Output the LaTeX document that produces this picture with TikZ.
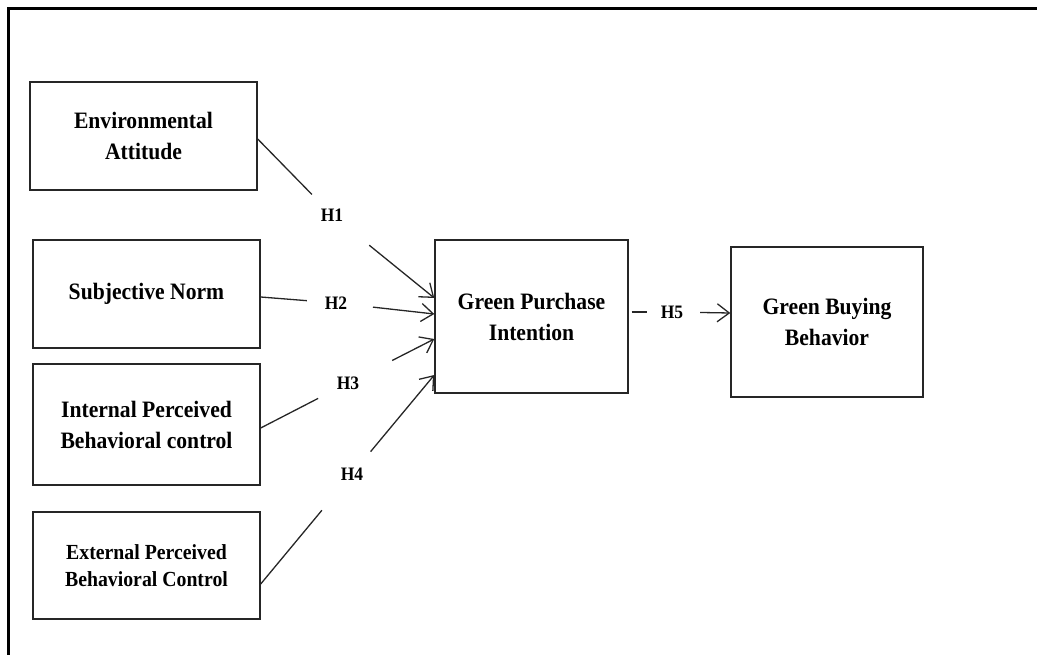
\documentclass[tikz,border=0pt]{standalone}
\usepackage{fontspec}
\setmainfont[FakeStretch=0.92]{Liberation Serif}
\usetikzlibrary{arrows.meta}
\begin{document}
\begin{tikzpicture}[x=1pt,y=-1pt]
\tikzstyle{bloc}=[draw=black!85,line width=1.4pt,align=center,font=\fontsize{23.5}{31}\selectfont\bfseries]
\tikzstyle{hyp}=[inner sep=0pt,outer sep=0pt,font=\fontsize{19}{20}\selectfont\bfseries]
\tikzstyle{lien}=[line width=1.3pt,draw=black!85]
\tikzset{>={Straight Barb[length=12pt,width=18pt]}}

\useasboundingbox (0,0) rectangle (1037,655);
% Cadre
\draw[line width=3pt] (8,655) -- (8,9) -- (1037,9);

% Variables exogenes
\node[bloc,minimum width=227pt,minimum height=108pt] (EA) at (143.5,136) {Environmental\\Attitude};
\node[bloc,minimum width=227pt,minimum height=108pt] (SN) at (146.5,294) {Subjective Norm};
\node[bloc,minimum width=227pt,minimum height=121pt] (IPBC) at (146.5,424.5) {Internal Perceived\\Behavioral control};
\node[bloc,minimum width=227pt,minimum height=107pt,font=\fontsize{21.5}{27}\selectfont\bfseries] (EPBC) at (146.5,565.5) {External Perceived\\Behavioral Control};

% Intention et comportement
\node[bloc,minimum width=193pt,minimum height=153pt] (GPI) at (531.5,316.5) {Green Purchase\\Intention};
\node[bloc,minimum width=192pt,minimum height=150pt] (GBB) at (827,322) {Green Buying\\Behavior};

% Hypotheses
\node[hyp] (H1) at (332,215) {H1};
\node[hyp] (H2) at (336,303) {H2};
\node[hyp] (H3) at (348,383) {H3};
\node[hyp] (H4) at (352,474) {H4};
\node[hyp] (H5) at (672,312) {H5};

\draw[lien,shorten >=20pt] ([yshift=-3pt]EA.east) -- (H1);
\draw[lien,->,shorten <=38pt] (H1) -- ([yshift=18.5pt]GPI.west);
\draw[lien,shorten >=18pt] ([yshift=-3pt]SN.east) -- (H2);
\draw[lien,->,shorten <=26pt] (H2) -- ([yshift=2.5pt]GPI.west);
\draw[lien,shorten >=21pt] ([yshift=-3.5pt]IPBC.east) -- (H3);
\draw[lien,->,shorten <=37pt] (H3) -- ([yshift=-22.5pt]GPI.west);
\draw[lien,shorten >=39pt] ([yshift=-18.5pt]EPBC.east) -- (H4);
\draw[lien,->,shorten <=21pt] (H4) -- ([yshift=-58.5pt]GPI.west);
\draw[lien,shorten <=3pt,shorten >=14pt] ([yshift=4.5pt]GPI.east) -- (H5);
\draw[lien,->,shorten <=17pt] (H5) -- ([yshift=9pt]GBB.west);

\end{tikzpicture}
\end{document}
